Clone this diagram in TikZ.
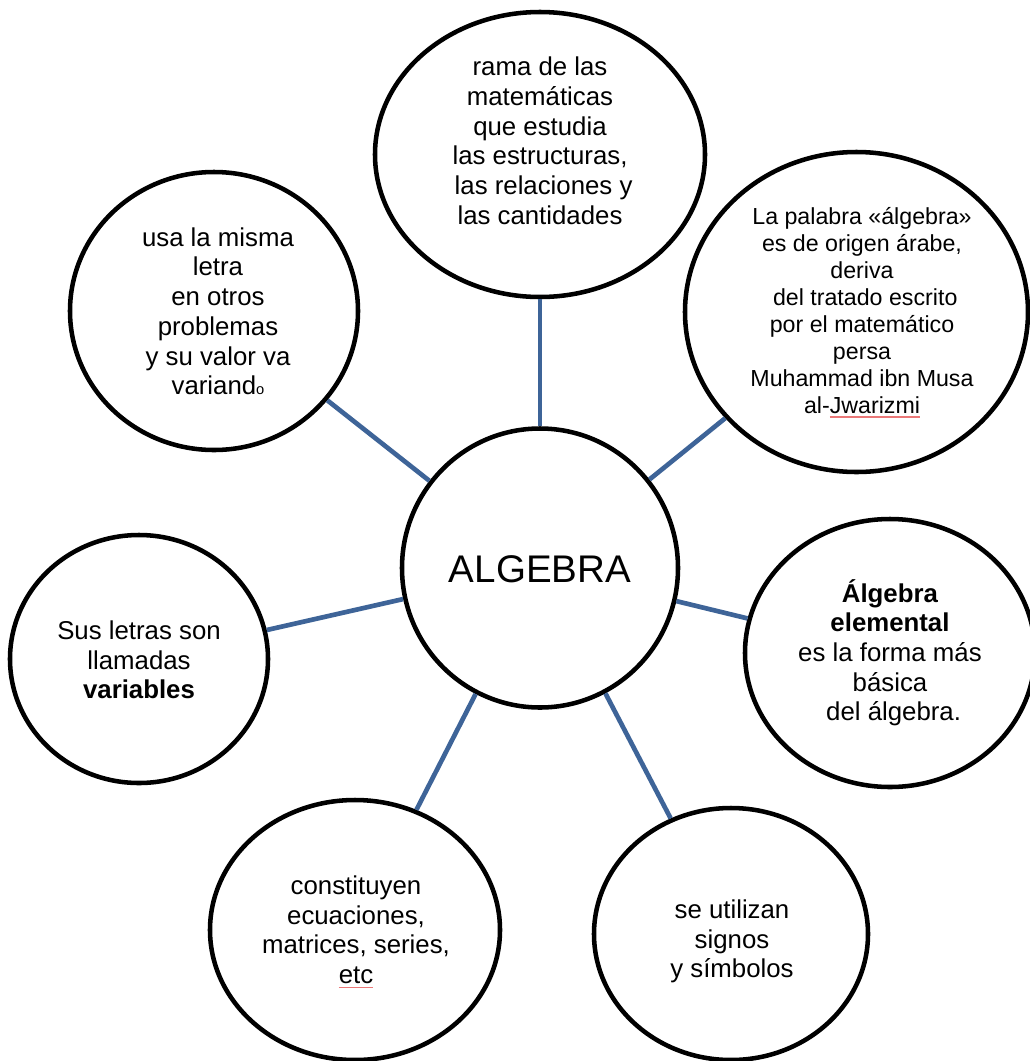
\documentclass[tikz,border=0pt]{standalone}
\usepackage{fontspec}
\setmainfont{Liberation Sans}
\usetikzlibrary{shapes.geometric}

\definecolor{linkblue}{RGB}{62,100,152}
\definecolor{spellred}{RGB}{235,120,120}

% struts that fix the height of the first line and the depth of the last line
\newcommand\topstrut{\rule{0pt}{0.92em}}
\newcommand\botstrut{\rule[-0.3em]{0pt}{0.3em}}
\newcommand\lead{\hspace*{0.28em}}
% thin red mark under a word
\newcommand\spellmark[1]{\setbox0=\hbox{#1}\rlap{\textcolor{spellred}{\rule[-0.17em]{\wd0}{0.9pt}}}\box0}

\begin{document}
\begin{tikzpicture}[x=0.75pt,y=-0.75pt,
  bubble/.style={ellipse, draw=black, line width=3.4pt, fill=white, inner sep=0pt},
  link/.style={draw=linkblue, line width=3.5pt},
  txt/.style={align=center, inner sep=0pt, text=black,
    font=\fontsize{19.35pt}{22.3pt}\selectfont},
  smalltxt/.style={align=center, inner sep=0pt, text=black,
    font=\fontsize{17.4pt}{20.25pt}\selectfont}]

\useasboundingbox (0,0) rectangle (1029,1061);
\fill[white] (0,0) rectangle (1029,1061);

% bubbles
\node[bubble, minimum width=330*0.75pt, minimum height=285*0.75pt] (def)    at (540,154.5) {};
\node[bubble, minimum width=343*0.75pt, minimum height=320*0.75pt] (origin) at (856.5,312) {};
\node[bubble, minimum width=288*0.75pt, minimum height=278*0.75pt] (letter) at (214,311) {};
\node[bubble, minimum width=276*0.75pt, minimum height=279*0.75pt] (alg)    at (540,568) {};
\node[bubble, minimum width=258*0.75pt, minimum height=248*0.75pt] (vars)   at (139,659) {};
\node[bubble, minimum width=290*0.75pt, minimum height=268*0.75pt] (elem)   at (890,653) {};
\node[bubble, minimum width=290*0.75pt, minimum height=260*0.75pt] (eqs)    at (355,930) {};
\node[bubble, minimum width=274*0.75pt, minimum height=252*0.75pt] (signs)  at (731,934) {};

% connectors from the centre bubble
\draw[link] (alg) -- (def);
\draw[link] (alg) -- (origin);
\draw[link] (alg) -- (letter);
\draw[link] (alg) -- (vars);
\draw[link] (alg) -- (elem);
\draw[link] (alg) -- (eqs);
\draw[link] (alg) -- (signs);

% texts
\node[txt] (tdef) at (540,142) {\topstrut rama de las\\matemáticas\\que estudia\\las estructuras,\\\lead las relaciones y\\las cantidades\botstrut};

\node[smalltxt] (torigin) at (862,312) {\topstrut La palabra «álgebra»\\es de origen árabe,\\deriva\\\lead del tratado escrito\\por el matemático\\persa\\Muhammad ibn Musa\\al-\spellmark{Jwarizmi}\botstrut};

\node[txt] (tletter) at (218,312.5) {\topstrut usa la misma\\letra\\en otros\\problemas\\y su valor va\\variand{\fontsize{11pt}{11pt}\selectfont o}\botstrut};

\node[anchor=base, inner sep=0pt, font=\fontsize{28.9pt}{33pt}\selectfont] (talg) at (540,582) {ALGEBRA};

\node[txt] (tvars) at (139,661) {\topstrut Sus letras son\\llamadas\\\textbf{variables}\botstrut};

\node[txt] (telem) at (890,653.5) {\topstrut\textbf{Álgebra}\\\textbf{elemental}\\es la forma más\\básica\\\lead del álgebra.\botstrut};

\node[txt] (teqs) at (356,931) {\topstrut constituyen\\ecuaciones,\\matrices, series,\\\spellmark{etc}\botstrut};

\node[txt] (tsigns) at (732,940) {\topstrut se utilizan\\signos\\y símbolos\botstrut};

\end{tikzpicture}
\end{document}
